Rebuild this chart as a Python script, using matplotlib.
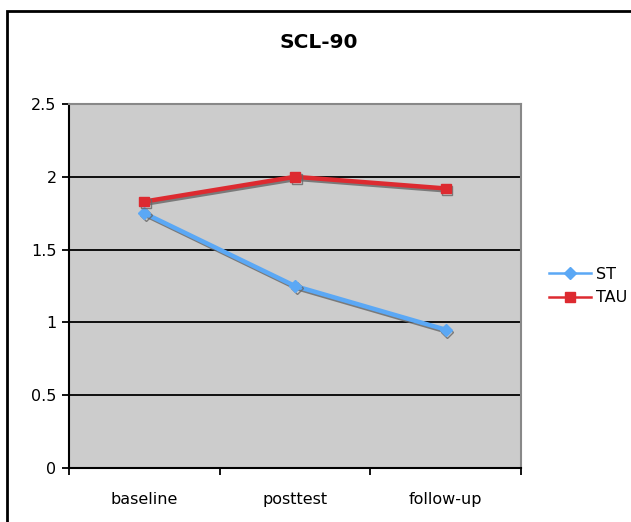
import numpy as np
import matplotlib
matplotlib.use("Agg")
import matplotlib.pyplot as plt
import matplotlib.patheffects as pe
from matplotlib.patches import Rectangle
from matplotlib.lines import Line2D

# data
phases = ["baseline", "posttest", "follow-up"]
st = [1.75, 1.25, 0.95]
tau = [1.83, 2.00, 1.92]

plt.rcParams['font.family'] = 'DejaVu Sans'

fig = plt.figure(figsize=(6.31, 5.22), dpi=100)
fig.patches.append(Rectangle((7/631, -0.1), 1.1, 1 - 11/522 + 0.1, transform=fig.transFigure,
                             fill=False, edgecolor="black", lw=2))

ax = fig.add_axes([69/631, 54/522, 452/631, 364/522])
ax.set_facecolor("#CCCCCC")

x = np.arange(len(phases))
shadow = [pe.SimpleLineShadow(offset=(1.2, -1.5), shadow_color="#666666", alpha=0.8), pe.Normal()]
ax.plot(x, st, color="#5BA8F5", lw=3.2, marker="D", ms=6, path_effects=shadow, zorder=4)
ax.plot(x, tau, color="#DD2A30", lw=3.2, marker="s", ms=7, path_effects=shadow, zorder=4)

ax.set_xlim(-0.5, 2.5)
ax.set_ylim(0, 2.5)
ax.set_yticks(np.arange(0, 2.51, 0.5))
ax.set_yticklabels(["0", "0.5", "1", "1.5", "2", "2.5"])
ax.set_xticks(x)
ax.set_xticklabels(phases)
ax.set_xticks([-0.5, 0.5, 1.5, 2.5], minor=True)
ax.tick_params(axis="x", which="major", length=0, pad=17, labelsize=11.5)
ax.tick_params(axis="x", which="minor", length=5, width=1.3, direction="out")
ax.tick_params(axis="y", length=5, width=1.3, direction="out", labelsize=11.5, pad=4)
ax.yaxis.grid(True, color="black", lw=1.3)
ax.set_axisbelow(True)
for s in ["top", "right"]:
    ax.spines[s].set_color("#888888")
    ax.spines[s].set_linewidth(1.5)
for s in ["left", "bottom"]:
    ax.spines[s].set_color("black")
    ax.spines[s].set_linewidth(1.5)

fig.text(319/631, 1 - 43/522, "SCL-90", ha="center", va="center", fontsize=14.5, fontweight="bold")

h = [Line2D([], [], color="#5BA8F5", lw=1.8, marker="D", ms=6),
     Line2D([], [], color="#DD2A30", lw=1.8, marker="s", ms=7)]
fig.legend(h, ["ST", "TAU"], loc="center left", bbox_to_anchor=(535/631, 1 - 286/522), frameon=False,
           fontsize=11.5, handlelength=2.6, handletextpad=0.3, labelspacing=0.55)

fig.savefig("out.png", dpi=100)
